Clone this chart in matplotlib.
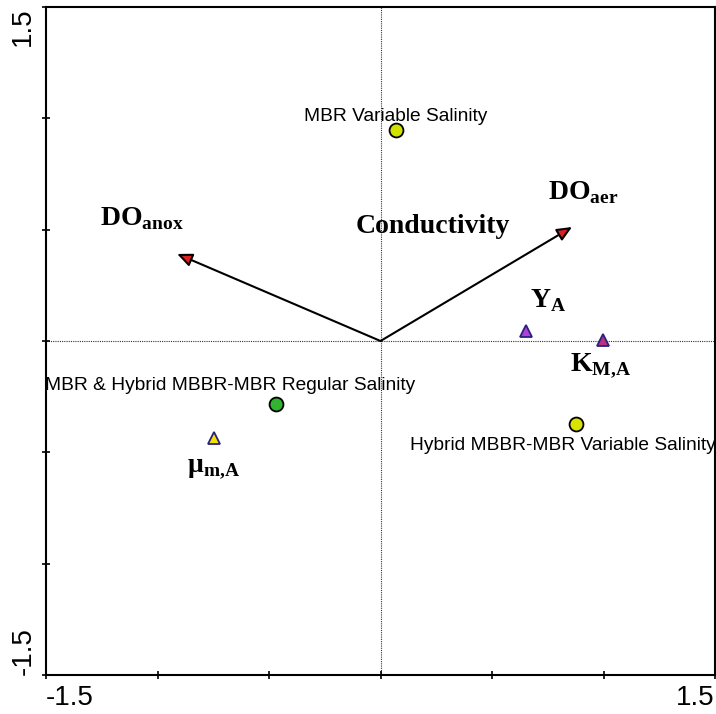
import matplotlib
matplotlib.use("Agg")
import matplotlib.pyplot as plt

plt.rcParams['mathtext.fontset'] = 'custom'
plt.rcParams['mathtext.bf'] = 'Liberation Serif:bold'
plt.rcParams['mathtext.rm'] = 'Liberation Serif:bold'

# samples (circles)
sample_names = ["MBR Variable Salinity", "MBR & Hybrid MBBR-MBR Regular Salinity",
                "Hybrid MBBR-MBR Variable Salinity"]
sample_x = [0.07, -0.469, 0.877]
sample_y = [0.947, -0.283, -0.373]
sample_colors = ["#d2e000", "#2fb52f", "#d9e300"]

# response variables (triangles)
param_names = [r"$\mathbf{Y}_{\mathbf{A}}$", r"$\mathbf{K}_{\mathbf{M{,}A}}$", r"$\mathbf{\mu}_{\mathbf{m{,}A}}$"]
param_x = [0.652, 0.998, -0.747]
param_y = [0.045, 0.004, -0.436]
param_colors = ["#b040d8", "#b83080", "#f2e200"]

# environmental arrows
env_names = [r"$\mathbf{DO}_{\mathbf{anox}}$", r"$\mathbf{DO}_{\mathbf{aer}}$"]
env_x = [-0.912, 0.859]
env_y = [0.391, 0.512]

fig = plt.figure(figsize=(7.16, 7.14), dpi=100)
ax = fig.add_axes([46/716, 39/714, 669/716, 668/714])
ax.set_xlim(-1.5, 1.5)
ax.set_ylim(-1.5, 1.5)

ax.axvline(0, color="#333333", lw=0.8, ls=(0, (1, 1)), zorder=1)
ax.axhline(0, color="#333333", lw=0.8, ls=(0, (1, 1)), zorder=1)

for ex, ey in zip(env_x, env_y):
    ax.annotate("", xy=(ex, ey), xytext=(0, 0),
                arrowprops=dict(arrowstyle="-|>,head_length=0.5,head_width=0.22",
                                fc="#e02020", ec="black", lw=1.5,
                                mutation_scale=18, shrinkA=0, shrinkB=0), zorder=3)

for x, y, c in zip(sample_x, sample_y, sample_colors):
    ax.plot(x, y, "o", ms=10, mfc=c, mec="black", mew=1.3, zorder=4)
for x, y, c in zip(param_x, param_y, param_colors):
    ax.plot(x, y, "^", ms=8, mfc=c, mec="#2a2080", mew=1.3, zorder=4)

sans = "Liberation Sans"
fs = 13.8
ax.text(0.07, 1.01, sample_names[0], ha="center", va="center", fontsize=fs, family=sans)
ax.text(-0.674, -0.2, sample_names[1], ha="center", va="center", fontsize=fs,
        family=sans, clip_on=True)
ax.text(0.818, -0.47, sample_names[2], ha="center", va="center", fontsize=fs, family=sans)

ax.text(-1.258, 0.552, env_names[0], ha="left", va="center", fontsize=20)
ax.text(0.753, 0.669, env_names[1], ha="left", va="center", fontsize=20)
ax.text(0.233, 0.512, "Conductivity", ha="center", va="center", fontsize=20,
        family="Liberation Serif", weight="bold")
ax.text(0.67, 0.184, param_names[0], ha="left", va="center", fontsize=20)
ax.text(0.85, -0.112, param_names[1], ha="left", va="center", fontsize=20)
ax.text(-0.868, -0.566, param_names[2], ha="left", va="center", fontsize=20)

ticks = [-1.5, -1.0, -0.5, 0.0, 0.5, 1.0, 1.5]
ax.set_xticks(ticks)
ax.set_yticks(ticks)
ax.set_xticklabels(["-1.5", "", "", "", "", "", "1.5"])
ax.set_yticklabels(["-1.5", "", "", "", "", "", "1.5"], rotation=90, va="center")
ax.tick_params(direction="inout", length=6, width=1.2, labelsize=20, pad=4)
for lab in ax.get_xticklabels():
    lab.set_family(sans)
for lab in ax.get_yticklabels():
    lab.set_family(sans)
xl = ax.get_xticklabels()
xl[0].set_ha("left"); xl[-1].set_ha("right")
yl = ax.get_yticklabels()
yl[0].set_va("bottom"); yl[-1].set_va("top")

for s in ax.spines.values():
    s.set_linewidth(1.5)

fig.savefig("out.png", dpi=100)
